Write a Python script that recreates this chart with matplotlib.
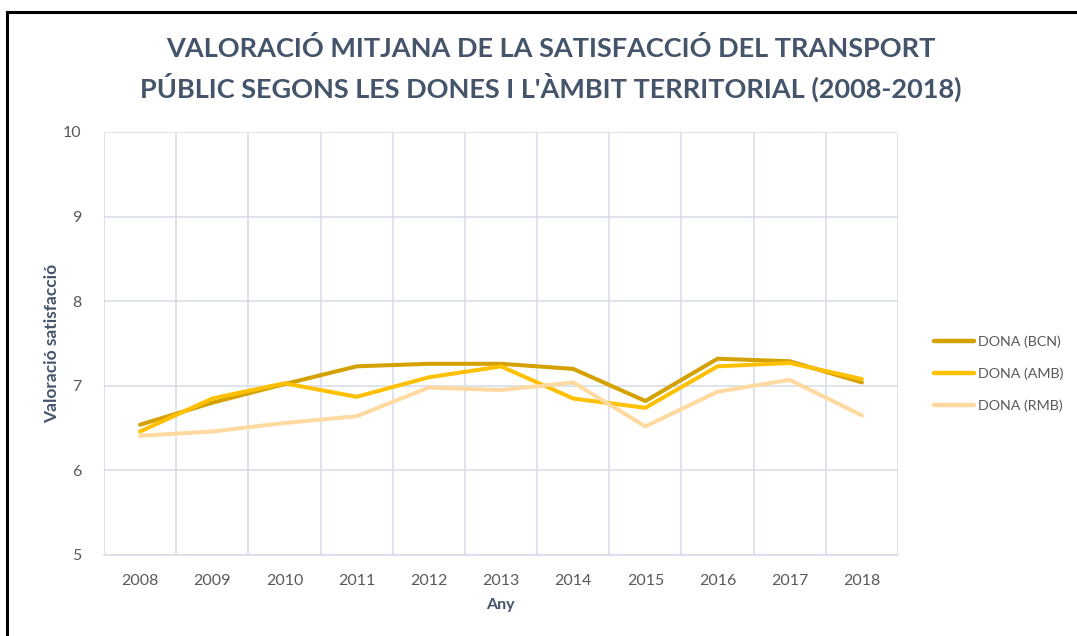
import matplotlib
matplotlib.use("Agg")
import matplotlib.pyplot as plt
from matplotlib.lines import Line2D

years = ["2008", "2009", "2010", "2011", "2012", "2013", "2014", "2015", "2016", "2017", "2018"]
bcn = [6.54, 6.80, 7.02, 7.23, 7.26, 7.26, 7.20, 6.82, 7.32, 7.29, 7.04]
amb = [6.46, 6.85, 7.03, 6.87, 7.10, 7.23, 6.85, 6.74, 7.23, 7.27, 7.08]
rmb = [6.41, 6.46, 6.56, 6.64, 6.98, 6.95, 7.04, 6.52, 6.93, 7.07, 6.65]
series_names = ["DONA (BCN)", "DONA (AMB)", "DONA (RMB)"]
colors = ["#D4A100", "#FFC000", "#FFD9A0"]
title = "VALORACIÓ MITJANA DE LA SATISFACCIÓ DEL TRANSPORT\nPÚBLIC SEGONS LES DONES I L'ÀMBIT TERRITORIAL (2008-2018)"

plt.rcParams['font.family'] = ['Lato', 'DejaVu Sans']
txt = "#44546A"
grid = "#D9DEE8"

fig = plt.figure(figsize=(10.77, 6.36), dpi=100)
ax = fig.add_axes([104/1077, 1-555/636, 794/1077, 423/636])

x = list(range(len(years)))
for vals, c, n in zip([bcn, amb, rmb], colors, series_names):
    ax.plot(x, vals, color=c, lw=2.9, label=n, solid_capstyle='round', solid_joinstyle='round')

ax.set_xlim(-0.5, len(years) - 0.5)
ax.set_ylim(5, 10)
ax.set_yticks([5, 6, 7, 8, 9, 10])
ax.set_xticks(x)
ax.set_xticklabels(years)
ax.set_xticks([i - 0.5 for i in range(len(years) + 1)], minor=True)
ax.grid(True, which='major', axis='y', color=grid, lw=1.2)
ax.grid(True, which='minor', axis='x', color=grid, lw=1.2)
ax.set_axisbelow(True)
for s in ['top', 'right', 'left']:
    ax.spines[s].set_visible(False)
ax.spines['bottom'].set_color(grid)
ax.spines['bottom'].set_linewidth(1.2)
ax.tick_params(which='both', length=0)
ax.tick_params(axis='x', pad=14, labelsize=11.5, labelcolor="#595959")
ax.tick_params(axis='y', pad=16, labelsize=11.5, labelcolor="#595959")

fig.text(500/1077, 1-605/636, "Any", ha='center', va='center', fontsize=11.5,
         fontweight='bold', color=txt)
fig.text(52/1077, 1-343/636, "Valoració satisfacció", ha='center', va='center', rotation=90,
         fontsize=12.5, fontweight='bold', color=txt)

fig.text(0.511, 1-69/636, title, ha='center', va='center', fontsize=19.5, fontweight='bold',
         color=txt, linespacing=1.45)

leg = fig.legend(loc='center left', bbox_to_anchor=(921/1077, 1-374/636), frameon=False,
                 fontsize=10.3, labelspacing=1.35, handlelength=2.8, handletextpad=0.3)
for t in leg.get_texts():
    t.set_color("#595959")
for h in leg.get_lines():
    h.set_linewidth(3.2)

fig.add_artist(Line2D([7/1077, 1], [1-12/636, 1-12/636], color='black', lw=2.2, transform=fig.transFigure))
fig.add_artist(Line2D([7/1077, 7/1077], [1-12/636, 0], color='black', lw=2.2, transform=fig.transFigure))

fig.savefig("out.png", dpi=100)
